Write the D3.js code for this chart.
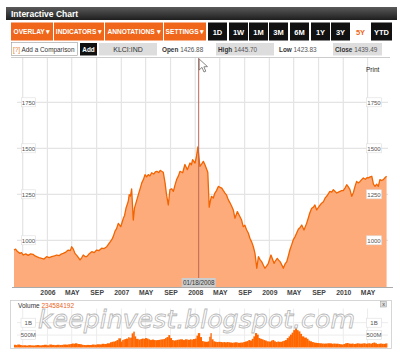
<!DOCTYPE html>
<html>
<head>
<meta charset="utf-8">
<script src="https://cdn.jsdelivr.net/npm/d3@7"></script>
<style>
body { margin: 0; background: #fff; }
svg { display: block; font-family: "Liberation Sans", Arial, sans-serif; }
</style>
</head>
<body>
<div id="chart"></div>
<script>
// KLCI 5Y data (approx.)
var dates = [
 "2005-07-20","2005-07-28","2005-08-05","2005-08-18","2005-08-26","2005-09-04","2005-09-16","2005-09-28","2005-10-10","2005-10-22",
 "2005-11-01","2005-11-09","2005-11-20","2005-12-04","2005-12-15","2005-12-28","2006-01-10","2006-01-22","2006-02-05","2006-02-16",
 "2006-03-01","2006-03-10","2006-03-20","2006-04-02","2006-04-14","2006-04-24","2006-05-01","2006-05-09","2006-05-17","2006-05-28",
 "2006-06-11","2006-06-19","2006-06-27","2006-07-06","2006-07-14","2006-07-25","2006-08-08","2006-08-20","2006-09-01","2006-09-13",
 "2006-09-26","2006-10-08","2006-10-21","2006-11-06","2006-11-14","2006-11-22","2006-12-01","2006-12-08","2006-12-17","2006-12-29",
 "2007-01-05","2007-01-11","2007-01-17","2007-01-24","2007-02-04","2007-02-09","2007-02-15","2007-02-21","2007-03-01","2007-03-07",
 "2007-03-14","2007-03-26","2007-04-05","2007-04-12","2007-04-20","2007-04-28","2007-05-06","2007-05-14","2007-05-22","2007-05-31",
 "2007-06-10","2007-06-18","2007-06-25","2007-07-05","2007-07-12","2007-07-19","2007-07-27","2007-08-05","2007-08-12","2007-08-21",
 "2007-08-29","2007-09-07","2007-09-15","2007-09-23","2007-10-01","2007-10-10","2007-10-18","2007-10-31","2007-11-11","2007-11-23",
 "2007-12-06","2007-12-13","2007-12-19","2007-12-31","2008-01-07","2008-01-14","2008-01-24","2008-02-02","2008-02-10","2008-02-18",
 "2008-03-03","2008-03-10","2008-03-16","2008-03-21","2008-03-30","2008-04-07","2008-04-15","2008-04-24","2008-05-03","2008-05-11",
 "2008-05-19","2008-05-27","2008-06-04","2008-06-12","2008-06-20","2008-06-29","2008-07-07","2008-07-15","2008-07-27","2008-08-09",
 "2008-08-17","2008-08-25","2008-09-02","2008-09-11","2008-09-19","2008-09-27","2008-10-06","2008-10-14","2008-10-22","2008-10-31",
 "2008-11-08","2008-11-16","2008-11-24","2008-12-02","2008-12-10","2008-12-18","2008-12-27","2009-01-09","2009-01-16","2009-01-24",
 "2009-02-01","2009-02-09","2009-02-16","2009-02-23","2009-03-04","2009-03-11","2009-03-19","2009-03-28","2009-04-06","2009-04-13",
 "2009-04-21","2009-04-29","2009-05-08","2009-05-16","2009-05-24","2009-06-02","2009-06-10","2009-06-21","2009-07-04","2009-07-12",
 "2009-07-20","2009-07-29","2009-08-07","2009-08-14","2009-08-23","2009-09-04","2009-09-16","2009-09-25","2009-10-03","2009-10-15",
 "2009-10-27","2009-11-05","2009-11-13","2009-11-22","2009-11-30","2009-12-08","2009-12-16","2009-12-24","2010-01-01","2010-01-10",
 "2010-01-18","2010-01-26","2010-02-03","2010-02-12","2010-02-20","2010-02-28","2010-03-08","2010-03-16","2010-03-25","2010-04-02",
 "2010-04-10","2010-04-20","2010-04-28","2010-05-05","2010-05-14","2010-05-22","2010-05-30","2010-06-07","2010-06-15","2010-06-23",
 "2010-07-01","2010-07-09","2010-07-18","2010-07-26","2010-08-03"
];
var closes = [
 947,952,940,929,933,920,926,918,926,924,
 915,911,906,902,898,911,906,911,915,920,
 917,925,929,936,947,944,965,952,929,915,
 893,905,920,912,911,925,938,933,947,944,
 957,955,965,990,1002,1020,1050,1062,1092,1074,
 1098,1120,1135,1174,1211,1248,1240,1279,1110,1175,
 1202,1248,1285,1312,1330,1357,1345,1357,1350,1367,
 1360,1372,1375,1368,1380,1375,1370,1312,1250,1192,
 1275,1280,1266,1300,1330,1350,1375,1367,1412,1384,
 1420,1410,1438,1420,1455,1508,1402,1415,1429,1411,
 1370,1180,1215,1239,1230,1257,1270,1293,1288,1284,
 1270,1257,1245,1221,1205,1185,1165,1120,1156,1128,
 1110,1074,1082,1056,1040,1011,990,965,929,848,
 911,895,884,866,848,860,875,920,900,875,
 890,902,892,884,865,848,870,884,920,950,
 975,1002,1020,1040,1060,1070,1083,1056,1092,1120,
 1150,1174,1180,1192,1165,1185,1202,1210,1229,1245,
 1266,1262,1275,1265,1257,1262,1266,1270,1270,1285,
 1302,1290,1275,1239,1260,1293,1320,1312,1320,1330,
 1339,1332,1340,1339,1345,1348,1305,1293,1305,1293,
 1330,1325,1330,1340,1348
];
// volume, millions of shares
var volumes = [
 110,95,120,100,85,90,80,95,85,80,
 90,100,85,95,110,90,120,105,95,110,
 100,105,120,115,130,140,160,150,170,140,
 130,110,100,95,105,100,120,110,130,125,
 150,140,170,210,230,240,260,300,370,240,
 300,320,340,360,420,380,400,570,640,450,
 350,320,340,360,350,380,360,330,300,320,
 300,290,300,310,320,330,340,380,420,500,
 380,300,280,290,310,320,330,300,330,310,
 330,300,340,360,480,580,420,260,240,230,
 250,435,580,330,250,230,220,230,220,210,
 220,200,220,210,200,190,200,210,190,195,
 200,220,240,260,300,280,350,450,580,520,
 380,350,330,300,280,250,240,280,300,250,
 220,240,230,230,250,270,300,380,450,520,
 600,700,775,700,650,550,450,400,350,280,
 250,220,200,190,180,170,160,155,160,170,
 165,150,160,150,155,140,130,120,140,170,
 180,160,150,160,140,150,170,160,150,160,
 170,150,160,170,150,180,200,170,140,150,
 160,150,145,160,170
];
var yTicks = [1000, 1250, 1500, 1750];
var volTicks = [500, 1000];
var volTickLabels = ["500M", "1B"];
var menuLabels = ["OVERLAY", "INDICATORS", "ANNOTATIONS", "SETTINGS"];
var rangeLabels = ["1D", "1W", "1M", "3M", "6M", "1Y", "3Y", "5Y", "YTD"];
var activeRange = "5Y";
var symbol = "KLCI:IND";
var quoteLabels = ["Open", "High", "Low", "Close"];
var quoteValues = ["1426.88", "1445.70", "1423.83", "1439.49"];
var lastVolume = "234584192";
var markerDate = "2008-01-18";

var parse = d3.timeParse("%Y-%m-%d");
var data = dates.map(function (d, i) {
  return { date: parse(d), close: closes[i], vol: volumes[i] };
});

var W = 400, H = 358;
var svg = d3.select("#chart").append("svg").attr("width", W).attr("height", H);
var defs = svg.append("defs");
var grad = defs.append("linearGradient").attr("id", "titlebar").attr("x1", 0).attr("y1", 0).attr("x2", 0).attr("y2", 1);
grad.append("stop").attr("offset", "0%").attr("stop-color", "#5a5a5a");
grad.append("stop").attr("offset", "100%").attr("stop-color", "#1e1e1e");

// title bar
svg.append("rect").attr("x", 6).attr("y", 7).attr("width", 391).attr("height", 13).attr("fill", "url(#titlebar)");
svg.append("text").attr("x", 11).attr("y", 17).attr("fill", "#fff")
  .style("font-size", "8.5px").style("font-weight", "bold").text("Interactive Chart");

// menu buttons
var menuX = [11, 54, 105, 164], menuW = [42, 50, 58, 42];
var mg = svg.append("g");
menuLabels.forEach(function (m, i) {
  mg.append("rect").attr("x", menuX[i]).attr("y", 22.5).attr("width", menuW[i]).attr("height", 18).attr("fill", "#f0661a");
  mg.append("text").attr("x", menuX[i] + menuW[i] / 2).attr("y", 34).attr("text-anchor", "middle")
    .attr("fill", "#fff").style("font-size", "6.6px").style("font-weight", "bold").text(m + " \u25BE");
});
var rangeX = [208, 229, 249, 269, 290, 311, 331, 351, 371];
rangeLabels.forEach(function (r, i) {
  var on = r === activeRange;
  mg.append("rect").attr("x", rangeX[i]).attr("y", 22.5).attr("width", i === 8 ? 21 : 19).attr("height", 18)
    .attr("fill", on ? "#fff" : "#111");
  mg.append("text").attr("x", rangeX[i] + (i === 8 ? 10.5 : 9.5)).attr("y", 34.5).attr("text-anchor", "middle")
    .attr("fill", on ? "#f0661a" : "#fff").style("font-size", "7.5px").style("font-weight", "bold").text(r);
});

// comparison / quote row
var qg = svg.append("g").style("font-size", "6.4px");
qg.append("rect").attr("x", 11.5).attr("y", 42.5).attr("width", 66).attr("height", 13).attr("fill", "#fff").attr("stroke", "#999").attr("stroke-width", 0.6);
qg.append("text").attr("x", 13).attr("y", 51.5).attr("fill", "#333")
  .html('<tspan fill="#e8781e">[?]</tspan> Add a Comparison');
qg.append("rect").attr("x", 80).attr("y", 43).attr("width", 17).attr("height", 12.5).attr("fill", "#111");
qg.append("text").attr("x", 88.5).attr("y", 51.5).attr("text-anchor", "middle").attr("fill", "#fff").style("font-weight", "bold").text("Add");
qg.append("rect").attr("x", 99).attr("y", 43).attr("width", 58).attr("height", 12.5).attr("fill", "#ddd");
qg.append("text").attr("x", 128).attr("y", 52).attr("text-anchor", "middle").attr("fill", "#333").style("font-size", "7px").text(symbol);
var qx = [160, 216, 277, 333], qw = [0, 58, 0, 49];
quoteLabels.forEach(function (q, i) {
  if (qw[i]) qg.append("rect").attr("x", qx[i]).attr("y", 43).attr("width", qw[i]).attr("height", 12.5).attr("fill", "#ddd");
  qg.append("text").attr("x", qx[i] + 2).attr("y", 51.5).attr("fill", "#333")
    .html('<tspan font-weight="bold">' + q + '</tspan> <tspan fill="#555">' + quoteValues[i] + '</tspan>');
});
svg.append("line").attr("x1", 11).attr("x2", 390).attr("y1", 57.5).attr("y2", 57.5).attr("stroke", "#ccc");

// scales
var x = d3.scaleTime().domain([parse("2005-07-20"), parse("2010-08-03")]).range([14, 386.6]);
var y = d3.scaleLinear().domain([1000, 1750]).range([240.3, 102.3]);
var yVol = d3.scaleLinear().domain([0, 1000]).range([347.5, 322.7]);
var plotTop = 58, plotBottom = 287, vTop = 300.5, vBottom = 348.5;

var monthTicks = x.ticks(d3.timeMonth.every(4));

// price grid
var grid = svg.append("g").attr("stroke", "#e4e4e4").attr("stroke-width", 1.2);
grid.selectAll(".vg").data(monthTicks).enter().append("line")
  .attr("x1", function (d) { return x(d); }).attr("x2", function (d) { return x(d); })
  .attr("y1", plotTop).attr("y2", plotBottom);
grid.selectAll(".hg").data(yTicks).enter().append("line")
  .attr("x1", 17).attr("x2", 388)
  .attr("y1", function (d) { return y(d); }).attr("y2", function (d) { return y(d); });

// price area + line
var area = d3.area().x(function (d) { return x(d.date); }).y0(plotBottom).y1(function (d) { return y(d.close); });
var line = d3.line().x(function (d) { return x(d.date); }).y(function (d) { return y(d.close); });
svg.append("path").datum(data).attr("d", area).attr("fill", "#fdab7b");
svg.append("path").datum(data).attr("d", line).attr("fill", "none").attr("stroke", "#f26400").attr("stroke-width", 1.3).attr("stroke-linejoin", "round");

// y labels, both sides
function boxLabels(g, ticks, labels, scale, xl, wl) {
  ticks.forEach(function (t, i) {
    var yy = scale(t);
    g.append("rect").attr("x", xl).attr("y", yy - 4.5).attr("width", wl).attr("height", 9)
      .attr("fill", "#fff").attr("stroke", "#ddd").attr("stroke-width", 0.6);
    g.append("text").attr("x", xl + wl / 2).attr("y", yy + 2.3).attr("text-anchor", "middle")
      .attr("fill", "#555").style("font-size", "6px").text(labels[i]);
  });
}
var yl = svg.append("g");
boxLabels(yl, yTicks, yTicks.map(String), y, 21.5, 14);
boxLabels(yl, yTicks, yTicks.map(String), y, 366.5, 15);

svg.append("text").attr("x", 366).attr("y", 72).attr("fill", "#222").style("font-size", "6.5px").text("Print");

// x axis
var fmt = d3.timeFormat("%b");
var xAxis = d3.axisBottom(x)
  .tickValues(monthTicks.filter(function (d) { return d >= parse("2006-01-01"); }))
  .tickSize(0).tickPadding(3.5)
  .tickFormat(function (d) { return d.getMonth() === 0 ? d.getFullYear() : fmt(d).toUpperCase(); });
var ax = svg.append("g").attr("transform", "translate(0," + plotBottom + ")").call(xAxis);
ax.select(".domain").attr("stroke", "#aaa").attr("d", "M12,0.5H393");
ax.selectAll("text").attr("fill", "#444").style("font-size", "6.8px").style("font-weight", "bold")
  .style("font-family", "'Liberation Sans', Arial, sans-serif");

// crosshair and its date box
var mx = x(parse(markerDate));
svg.append("line").attr("x1", mx).attr("x2", mx).attr("y1", plotTop).attr("y2", plotBottom).attr("stroke", "#b86a55").attr("stroke-width", 1);
svg.append("rect").attr("x", mx - 17).attr("y", 278).attr("width", 34).attr("height", 9).attr("fill", "#cdcdcd");
svg.append("text").attr("x", mx).attr("y", 285).attr("text-anchor", "middle").attr("fill", "#333").style("font-size", "6.3px")
  .text(d3.timeFormat("%m/%d/%Y")(parse(markerDate)));
// mouse pointer
svg.append("path").attr("transform", "translate(" + (mx + 0.5) + ",59)")
  .attr("d", "M0,0L0,11L2.8,8.4L4.8,13L6.6,12.2L4.7,7.8L8.3,7.6Z")
  .attr("fill", "#fff").attr("stroke", "#555").attr("stroke-width", 0.7);

// volume panel
var vp = svg.append("g");
vp.append("rect").attr("x", 10.5).attr("y", vTop).attr("width", 381).attr("height", vBottom - vTop)
  .attr("fill", "#fff").attr("stroke", "#ccc").attr("stroke-width", 0.8);
var vgrid = vp.append("g").attr("stroke", "#ececec").attr("stroke-width", 1);
vgrid.selectAll("line.v").data(monthTicks).enter().append("line")
  .attr("x1", function (d) { return x(d); }).attr("x2", function (d) { return x(d); })
  .attr("y1", vTop + 8).attr("y2", vBottom - 1);
vgrid.selectAll("line.h").data(volTicks).enter().append("line")
  .attr("x1", 17).attr("x2", 388)
  .attr("y1", function (d) { return yVol(d); }).attr("y2", function (d) { return yVol(d); });

vp.selectAll("rect.bar").data(data).enter().append("rect")
  .attr("x", function (d) { return x(d.date); })
  .attr("width", function (d, i) { return i < data.length - 1 ? x(data[i + 1].date) - x(d.date) + 0.3 : 0.8; })
  .attr("y", function (d) { return yVol(d.vol); })
  .attr("height", function (d) { return yVol(0) - yVol(d.vol); })
  .attr("fill", "#ff6600");

boxLabels(vp, volTicks, volTickLabels, yVol, 21, 14.5);
boxLabels(vp, volTicks, volTickLabels, yVol, 366.5, 15);

vp.append("text").attr("x", 18).attr("y", 307.5).attr("fill", "#333").style("font-size", "6.5px")
  .html('Volume <tspan fill="#e8641e">' + lastVolume + '</tspan>');
vp.append("rect").attr("x", 380.5).attr("y", 301.5).attr("width", 6).attr("height", 5.5).attr("fill", "#ddd").attr("stroke", "#999").attr("stroke-width", 0.5);
vp.append("text").attr("x", 383.5).attr("y", 306).attr("text-anchor", "middle").attr("fill", "#444").style("font-size", "5.5px").text("x");

// watermark
svg.append("text").attr("x", 38).attr("y", 328).attr("textLength", 317).attr("lengthAdjust", "spacingAndGlyphs")
  .attr("fill", "#fff").attr("fill-opacity", 0.55).attr("stroke", "#b8b8b8").attr("stroke-width", 0.8)
  .style("font-family", "'DejaVu Sans', sans-serif").style("font-style", "italic").style("font-size", "24px")
  .text("keepinvest.blogspot.com");
</script>
</body>
</html>
